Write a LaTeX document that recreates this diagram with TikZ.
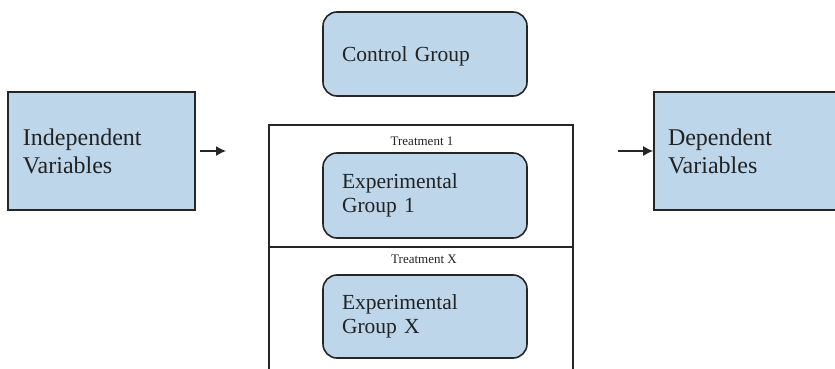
\documentclass[tikz,border=0pt]{standalone}
\usepackage{fontspec}
\setmainfont{Liberation Serif}
\usetikzlibrary{arrows.meta}
\definecolor{boxblue}{RGB}{189,214,234}
\definecolor{boxline}{RGB}{38,38,38}
\definecolor{txtgray}{RGB}{34,34,34}

\begin{document}
\begin{tikzpicture}[x=1pt,y=-1pt,
    varbox/.style={draw=boxline,line width=1.6pt,fill=boxblue,align=left,
        text=txtgray,font=\fontsize{24}{28}\selectfont,minimum height=118pt},
    grpbox/.style={draw=boxline,line width=1.6pt,fill=boxblue,rounded corners=14pt,
        align=left,text=txtgray,font=\fontsize{21.5}{24}\selectfont,
        inner xsep=19pt,text width=166pt},
    treatlabel/.style={text=txtgray,font=\fontsize{13}{15}\selectfont,inner sep=0pt,anchor=base},
    arr/.style={-{Latex[length=10pt,width=10pt]},line width=1.4pt,draw=boxline}]
% canvas
\clip (0,0) rectangle (835,369);
% variables
\node[varbox,inner xsep=15pt,text width=157pt] (indep) at (101.5,151) {Independent\\Variables};
\node[varbox,inner xsep=14pt,text width=172pt] (dep) at (754,151) {Dependent\\Variables};
% treatment frame
\draw[line width=1.6pt,color=boxline] (269,380) -- (269,125) -- (573,125) -- (573,380);
\draw[line width=1.6pt,color=boxline] (269,247) -- (573,247);
\node[treatlabel] (treat1) at (422,145) {Treatment 1};
\node[treatlabel] (treatx) at (424,263) {Treatment X};
% groups
\node[grpbox,minimum height=84pt,text depth=0pt] (ctrl) at (425,54) {Control Group};
\node[grpbox,minimum height=85pt] (exp1) at (425,195.5) {Experimental\\Group 1};
\node[grpbox,minimum height=83pt] (expx) at (425,316.5) {Experimental\\Group X};
% arrows
\coordinate (inend) at (226,151);
\coordinate (outstart) at (618,151);
\draw[arr] ([xshift=4pt]indep.east) -- (inend);
\draw[arr] (outstart) -- (dep.west);
\end{tikzpicture}
\end{document}
